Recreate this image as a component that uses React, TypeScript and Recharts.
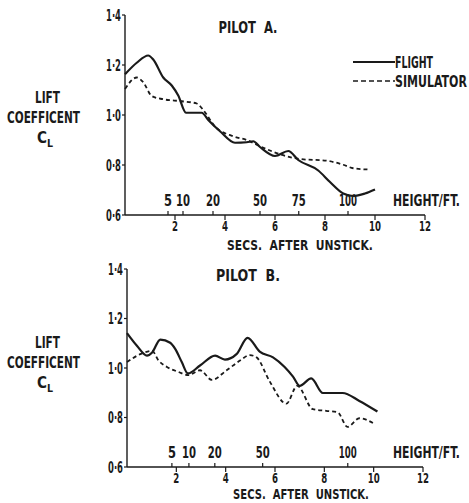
import React from "react";
import { LineChart, Line, XAxis, YAxis, Legend } from "recharts";

// Pilot A (t = secs after unstick, cl = lift coefficient)
const flightA_t = [0, 0.47, 0.93, 1.13, 1.53, 1.87, 2.13, 2.44, 3.07, 3.33, 3.8, 4.4, 4.87, 5.13, 5.4, 6.0, 6.53, 6.93, 7.73, 8.2, 8.73, 9.13, 9.6, 10.0];
const flightA_cl = [1.163, 1.209, 1.238, 1.222, 1.15, 1.118, 1.078, 1.009, 1.009, 0.98, 0.935, 0.889, 0.891, 0.895, 0.872, 0.836, 0.856, 0.82, 0.778, 0.732, 0.686, 0.676, 0.686, 0.702];
const simA_t = [0, 0.47, 0.73, 1.07, 1.53, 2.27, 2.87, 3.13, 3.6, 4.33, 4.87, 5.4, 6.2, 7.0, 8.07, 8.73, 9.13, 9.73];
const simA_cl = [1.104, 1.15, 1.131, 1.076, 1.063, 1.055, 1.046, 1.02, 0.954, 0.915, 0.9, 0.875, 0.843, 0.824, 0.817, 0.801, 0.787, 0.782];

// Pilot B
const flightB_t = [0, 0.41, 0.81, 1.02, 1.35, 1.75, 1.96, 2.22, 2.47, 2.96, 3.57, 3.97, 4.44, 4.89, 5.38, 5.92, 6.39, 6.73, 7.0, 7.47, 7.94, 8.74, 9.42, 10.15];
const flightB_cl = [1.141, 1.089, 1.05, 1.063, 1.115, 1.102, 1.076, 1.024, 0.978, 1.01, 1.05, 1.034, 1.056, 1.122, 1.066, 1.043, 1.004, 0.965, 0.928, 0.958, 0.899, 0.899, 0.867, 0.824];
const simB_t = [0, 0.54, 1.02, 1.28, 1.62, 2.09, 2.49, 2.96, 3.44, 4.04, 4.58, 4.98, 5.25, 5.79, 6.46, 6.9, 7.53, 8.07, 8.54, 8.94, 9.42, 10.02];
const simB_cl = [1.024, 1.056, 1.069, 1.03, 1.004, 0.984, 0.971, 0.991, 0.952, 0.991, 1.03, 1.052, 1.043, 0.945, 0.856, 0.928, 0.834, 0.827, 0.821, 0.762, 0.797, 0.775];

const secTicks = [2, 4, 6, 8, 10, 12];
const yTicks = [0.6, 0.8, 1.0, 1.2, 1.4];

// height (ft) marks along the time axis
const heightA_t = [1.72, 2.32, 3.52, 5.4, 6.95, 8.92];
const heightA_lbl = ["5", "10", "20", "50", "75", "100"];
const heightB_t = [1.82, 2.51, 3.56, 5.5, 8.95];
const heightB_lbl = ["5", "10", "20", "50", "100"];

const FONT = '"DejaVu Sans Condensed", "Liberation Sans Narrow", sans-serif';
const INK = "#1a1a1a";

const pts = (t: number[], cl: number[]) => t.map((v, i) => ({ t: v, cl: cl[i] }));

const fmtY = (v: number) => v.toFixed(1).replace(".", "·");

// lettering on the drawing is tall and narrow: measure, then squeeze horizontally
let ctx: CanvasRenderingContext2D | null = null;
function measure(s: string, size: number) {
  if (!ctx) ctx = document.createElement("canvas").getContext("2d");
  if (!ctx) return s.length * size * 0.6;
  ctx.font = `bold ${size}px ${FONT}`;
  return ctx.measureText(s).width || s.length * size * 0.6;
}
const digitW = (s: string) => s.length * 6;

function T(props: { x: number; y: number; w: number; size?: number; anchor?: "start" | "middle" | "end"; children: string }) {
  const size = props.size || 15;
  const sx = Math.min(1.2, props.w / measure(props.children, size));
  return (
    <text
      transform={`translate(${props.x},${props.y}) scale(${sx.toFixed(3)},1)`}
      x={0}
      y={0}
      textAnchor={props.anchor || "start"}
      fontFamily={FONT}
      fontWeight="bold"
      fontSize={size}
      fill={INK}
      style={{ whiteSpace: "pre" }}
    >
      {props.children}
    </text>
  );
}

function makeXTick(hT: number[], hL: string[], axisY: number, below: number) {
  return (props: any) => {
    const { x, payload } = props;
    const y = axisY;
    const v = payload.value;
    const hi = hT.indexOf(v);
    if (hi >= 0) {
      const s = hL[hi];
      return (
        <g>
          <line x1={x} y1={y} x2={x} y2={y - 4} stroke={INK} strokeWidth={1.2} />
          <T x={x} y={y - 9} w={s === "100" ? 18 : digitW(s) + 2} anchor="middle">{s}</T>
        </g>
      );
    }
    const s = String(v);
    return (
      <g>
        <line x1={x} y1={y} x2={x} y2={y + 5} stroke={INK} strokeWidth={1.2} />
        <T x={x} y={y + below} w={digitW(s)} size={14} anchor="middle">{s}</T>
      </g>
    );
  };
}

const YTick = (props: any) => {
  const { x, y, payload } = props;
  return <T x={x} y={y + 5.5} w={15} anchor="end">{fmtY(payload.value)}</T>;
};

type PanelProps = {
  flight: { t: number; cl: number }[];
  sim: { t: number; cl: number }[];
  hT: number[];
  hL: string[];
  title: string;
  titleW: number;
  top: number;
  height: number;
  margin: { top: number; left: number; right: number; bottom: number };
  titleY: number;
  labelY: number;
  secsX: number;
  secsY: number;
  secsW: number;
  below: number;
  legend?: boolean;
};

function Panel(p: PanelProps) {
  const axisY = p.height - p.margin.bottom - 1;
  return (
    <div style={{ position: "absolute", left: 0, top: p.top }}>
      <LineChart width={469} height={p.height} margin={p.margin}>
        <XAxis
          dataKey="t"
          type="number"
          domain={[0, 12]}
          ticks={[...secTicks, ...p.hT]}
          interval={0}
          height={1}
          tickLine={false}
          tickSize={0}
          tickMargin={0}
          axisLine={{ stroke: INK, strokeWidth: 1.4 }}
          tick={makeXTick(p.hT, p.hL, axisY, p.below)}
          label={{
            content: () => (
              <g>
                <T x={393} y={axisY - 9.5} w={67}>HEIGHT/FT.</T>
                <T x={p.secsX} y={p.secsY} w={p.secsW} size={14} anchor="middle">{"SECS.  AFTER  UNSTICK."}</T>
              </g>
            ),
          }}
        />
        <YAxis
          type="number"
          domain={[0.6, 1.4]}
          ticks={yTicks}
          width={1}
          tickSize={3}
          tickMargin={1}
          tickLine={{ stroke: INK, strokeWidth: 1.2 }}
          axisLine={{ stroke: INK, strokeWidth: 1.4 }}
          tick={YTick}
          label={{
            content: () => (
              <g>
                <T x={248} y={p.titleY} w={p.titleW} anchor="middle">{p.title}</T>
                <T x={47.5} y={p.labelY} w={25} anchor="middle">LIFT</T>
                <T x={43.5} y={p.labelY + 20} w={73} anchor="middle">COEFFICENT</T>
                <T x={37} y={p.labelY + 40} w={10}>C</T>
                <T x={47} y={p.labelY + 44} w={6} size={11}>L</T>
              </g>
            ),
          }}
        />
        {p.legend && (
          <Legend
            layout="vertical"
            align="center"
            verticalAlign="middle"
            wrapperStyle={{ position: "absolute", left: 350, top: 52, width: 119, height: 40 }}
            content={() => (
              <svg width={119} height={40}>
                <line x1={3} y1={10} x2={45} y2={10} stroke={INK} strokeWidth={2} />
                <T x={45} y={15.5} w={38}>FLIGHT</T>
                <line x1={3} y1={29} x2={45} y2={29} stroke={INK} strokeWidth={1.6} strokeDasharray="5 3" />
                <T x={45} y={34.5} w={72}>SIMULATOR</T>
              </svg>
            )}
          />
        )}
        <Line
          data={p.flight}
          dataKey="cl"
          name="FLIGHT"
          type="monotone"
          stroke={INK}
          strokeWidth={2.2}
          dot={false}
          isAnimationActive={false}
        />
        <Line
          data={p.sim}
          dataKey="cl"
          name="SIMULATOR"
          type="monotone"
          stroke={INK}
          strokeWidth={1.8}
          strokeDasharray="4 3"
          dot={false}
          isAnimationActive={false}
        />
      </LineChart>
    </div>
  );
}

export default function App() {
  return (
    <div style={{ position: "absolute", left: 0, top: 0, width: 469, height: 503, background: "#fff", overflow: "hidden" }}>
      <Panel
        flight={pts(flightA_t, flightA_cl)}
        sim={pts(simA_t, simA_cl)}
        hT={heightA_t}
        hL={heightA_lbl}
        title="PILOT  A."
        titleW={59}
        top={0}
        height={256}
        margin={{ top: 15, left: 124, right: 44, bottom: 40 }}
        titleY={33}
        labelY={103}
        secsX={300}
        secsY={249.5}
        secsW={146}
        below={16}
        legend
      />
      <Panel
        flight={pts(flightB_t, flightB_cl)}
        sim={pts(simB_t, simB_cl)}
        hT={heightB_t}
        hL={heightB_lbl}
        title="PILOT  B."
        titleW={64}
        top={247}
        height={256}
        margin={{ top: 22, left: 126, right: 46, bottom: 35 }}
        titleY={34}
        labelY={101}
        secsX={301}
        secsY={252}
        secsW={136}
        below={16}
      />
    </div>
  );
}
